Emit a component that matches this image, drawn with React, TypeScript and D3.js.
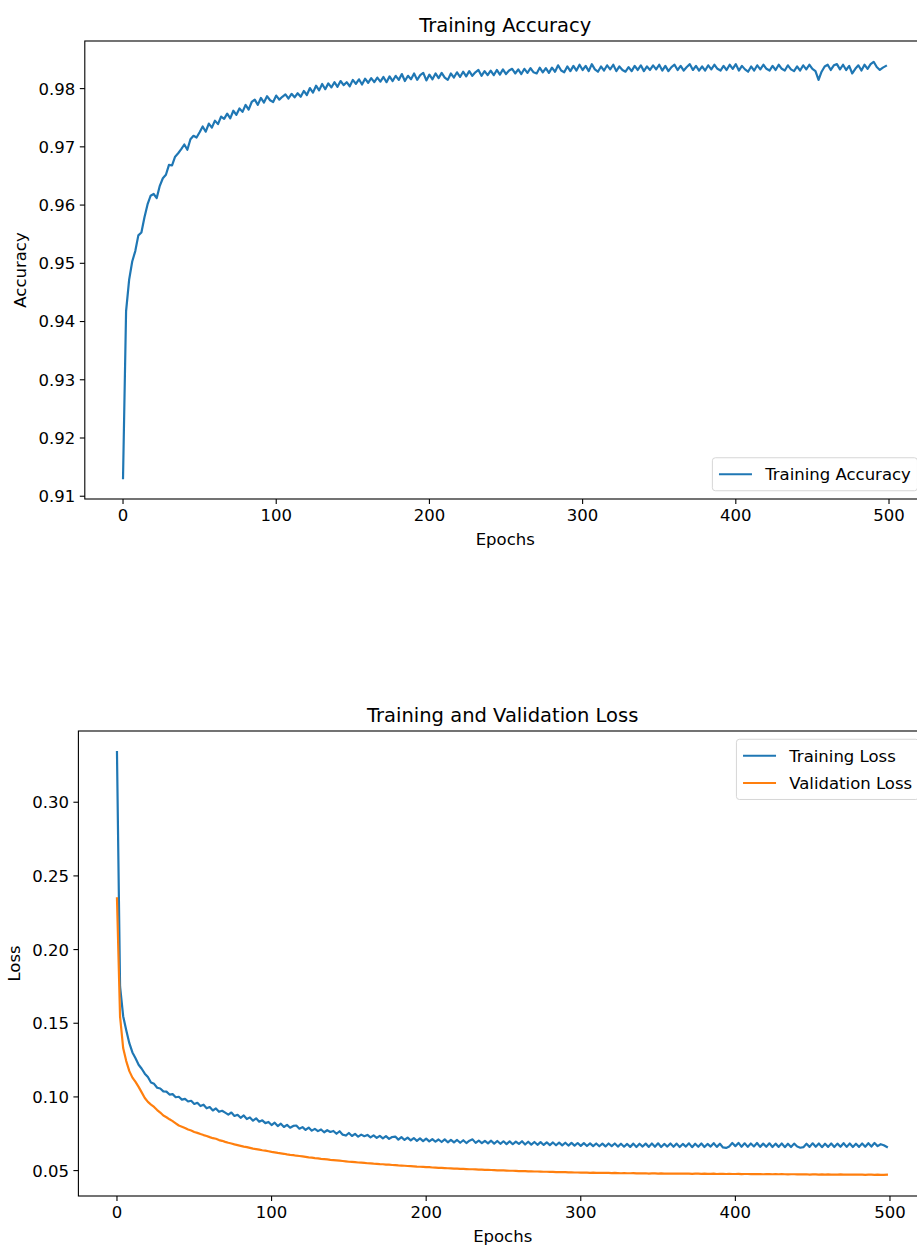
import { useEffect, useRef } from "react";
import * as d3 from "d3";

// Values, one every 2nd epoch (0, 2, ..., 498).
const TRAIN_ACC = [
  0.9131, 0.9418, 0.9472, 0.9503, 0.9521, 0.9548, 0.9553, 0.9579, 0.9601, 0.9616,
  0.9619, 0.9612, 0.9633, 0.9646, 0.9652, 0.9669, 0.9668, 0.9683, 0.9689, 0.9696,
  0.9704, 0.9695, 0.9713, 0.9719, 0.9716, 0.9725, 0.9735, 0.9726, 0.974, 0.9733,
  0.9745, 0.9739, 0.9752, 0.9748, 0.9757, 0.9749, 0.9762, 0.9755, 0.9766, 0.976,
  0.9772, 0.9764, 0.9777, 0.9781, 0.9772, 0.9784, 0.9776, 0.9787, 0.978, 0.9777,
  0.9788, 0.9781, 0.9786, 0.979, 0.9783, 0.9791, 0.9785, 0.9792, 0.9786, 0.9796,
  0.9789, 0.9801, 0.9793, 0.9805, 0.9797, 0.9808, 0.9799, 0.9809, 0.9802, 0.9811,
  0.9803, 0.9813, 0.9806, 0.9811, 0.9804, 0.9815, 0.9808, 0.9816, 0.9807, 0.9817,
  0.981, 0.9818, 0.9811, 0.9819, 0.9812, 0.982, 0.9811, 0.9821, 0.9813, 0.9822,
  0.9815, 0.9825, 0.9813, 0.9822, 0.9816, 0.9826, 0.9815, 0.9823, 0.9827, 0.9814,
  0.9824, 0.9816, 0.9826, 0.9818, 0.9827, 0.9819, 0.9815, 0.9826, 0.9819, 0.9828,
  0.982, 0.9829, 0.9821, 0.983, 0.9822, 0.9828, 0.9832, 0.9822, 0.983, 0.9823,
  0.9831, 0.9823, 0.9832, 0.9824, 0.9833, 0.9825, 0.9831, 0.9834, 0.9826, 0.9833,
  0.9825, 0.9834, 0.9827, 0.9835, 0.9828, 0.9826, 0.9836, 0.9828, 0.9835, 0.9827,
  0.9836, 0.9829, 0.984, 0.9831, 0.9828, 0.9838, 0.983, 0.9839, 0.9831, 0.9841,
  0.9832, 0.9839, 0.983, 0.9842, 0.9833, 0.9829, 0.9838, 0.9831, 0.984, 0.9833,
  0.9841, 0.983, 0.9838, 0.9832, 0.9829, 0.9837, 0.983, 0.9839, 0.9832, 0.984,
  0.983, 0.9838, 0.9832, 0.984, 0.9833, 0.9841, 0.9831, 0.9839, 0.983, 0.9837,
  0.9841, 0.9832, 0.9839, 0.9831, 0.9837, 0.9842, 0.9832, 0.9839, 0.9831, 0.9838,
  0.9831, 0.984, 0.9833, 0.9841, 0.9834, 0.9831, 0.9839, 0.9832, 0.9841, 0.9834,
  0.9842, 0.9831, 0.9839, 0.9833, 0.9829, 0.9838, 0.9831, 0.984, 0.9833, 0.9841,
  0.9834, 0.9831, 0.9839, 0.9832, 0.9841, 0.9834, 0.9831, 0.984, 0.9833, 0.983,
  0.9838, 0.9831, 0.984, 0.9833, 0.9841, 0.9834, 0.983, 0.9815, 0.9829, 0.9838,
  0.9841, 0.9832, 0.984, 0.9842, 0.9833, 0.9841, 0.9832, 0.9839, 0.9826, 0.9834,
  0.984, 0.9831, 0.9841, 0.9834, 0.9842, 0.9846, 0.9837, 0.9832, 0.9836, 0.9839,
];

const TRAIN_LOSS = [
  0.334, 0.175, 0.1548, 0.1452, 0.1365, 0.1302, 0.1262, 0.1218, 0.1191, 0.1158,
  0.1135, 0.1098, 0.1089, 0.1062, 0.1057, 0.1038, 0.1036, 0.1016, 0.1019, 0.0998,
  0.1001, 0.0982, 0.0987, 0.0969, 0.0974, 0.0952, 0.096, 0.0938, 0.0947, 0.0923,
  0.0931, 0.0908, 0.0922, 0.0899, 0.0906, 0.0893, 0.088, 0.0894, 0.0871, 0.0879,
  0.0858, 0.0874, 0.085, 0.0861, 0.0839, 0.0855, 0.0832, 0.0841, 0.0822, 0.083,
  0.0809, 0.0825, 0.0802, 0.0818, 0.0796, 0.081, 0.0791, 0.0803, 0.0806, 0.0784,
  0.0795, 0.0776, 0.0792, 0.0771, 0.0783, 0.0768, 0.0779, 0.076, 0.0774, 0.0762,
  0.0769, 0.075, 0.0767, 0.0744, 0.0738, 0.0755, 0.0735, 0.0749, 0.073, 0.0744,
  0.0733, 0.0742, 0.0725, 0.0739, 0.0722, 0.0736, 0.0719, 0.0734, 0.0715, 0.0728,
  0.0731, 0.071, 0.0727, 0.0708, 0.0724, 0.0705, 0.0721, 0.0702, 0.0719, 0.07,
  0.0717, 0.0698, 0.0714, 0.0696, 0.0711, 0.0694, 0.0712, 0.0692, 0.0709, 0.0691,
  0.0708, 0.0689, 0.0706, 0.0687, 0.0703, 0.0712, 0.0688, 0.0704, 0.0686, 0.0702,
  0.0685, 0.0703, 0.0683, 0.0701, 0.0682, 0.0699, 0.068, 0.0698, 0.0679, 0.0697,
  0.0681, 0.0699, 0.0677, 0.0696, 0.0676, 0.0694, 0.0675, 0.0693, 0.0674, 0.0692,
  0.0673, 0.0691, 0.0672, 0.069, 0.0671, 0.0689, 0.067, 0.0688, 0.0669, 0.0687,
  0.0668, 0.0686, 0.0667, 0.0685, 0.0666, 0.0684, 0.0665, 0.0683, 0.0664, 0.0684,
  0.0666, 0.0684, 0.0663, 0.0682, 0.0662, 0.0681, 0.0661, 0.0683, 0.066, 0.0682,
  0.0663, 0.0683, 0.0661, 0.0684, 0.0662, 0.0685, 0.066, 0.0681, 0.0663, 0.0684,
  0.0662, 0.0683, 0.066, 0.0681, 0.0663, 0.0685, 0.0659, 0.0682, 0.0662, 0.0684,
  0.066, 0.0681, 0.0663, 0.0686, 0.0661, 0.0682, 0.0657, 0.0654, 0.0664, 0.0687,
  0.0666, 0.0688, 0.0662, 0.0685, 0.0661, 0.0684, 0.0664, 0.0687, 0.0661, 0.0683,
  0.0662, 0.0685, 0.066, 0.0683, 0.0661, 0.0684, 0.0659, 0.0682, 0.066, 0.0683,
  0.0663, 0.0655, 0.0659, 0.0682, 0.0661, 0.0685, 0.0662, 0.0684, 0.0659, 0.0682,
  0.0661, 0.0684, 0.066, 0.0683, 0.0662, 0.0686, 0.0661, 0.0684, 0.066, 0.0682,
  0.0661, 0.0684, 0.0662, 0.0686, 0.0663, 0.0687, 0.0666, 0.0679, 0.0672, 0.066,
];

const VAL_LOSS = [
  0.2348, 0.1545, 0.1332, 0.1243, 0.1175, 0.1131, 0.1102, 0.1068, 0.1031, 0.0993,
  0.0966, 0.0948, 0.0932, 0.0911, 0.0894, 0.0874, 0.0862, 0.0848, 0.0836, 0.0821,
  0.0806, 0.0798, 0.0789, 0.0779, 0.0772, 0.0762, 0.0756, 0.0748, 0.0741, 0.0735,
  0.0727, 0.072, 0.0716, 0.0707, 0.0702, 0.0695, 0.0689, 0.0684, 0.0678, 0.0673,
  0.0668, 0.0663, 0.0659, 0.0654, 0.0649, 0.0646, 0.0642, 0.0638, 0.0635, 0.0631,
  0.0627, 0.0624, 0.062, 0.0617, 0.0614, 0.061, 0.0607, 0.0605, 0.0601, 0.0599,
  0.0596, 0.0593, 0.059, 0.0588, 0.0585, 0.0583, 0.058, 0.0578, 0.0576, 0.0573,
  0.0571, 0.0569, 0.0567, 0.0565, 0.0563, 0.056, 0.0559, 0.0557, 0.0555, 0.0554,
  0.0552, 0.055, 0.0549, 0.0547, 0.0546, 0.0544, 0.0543, 0.0541, 0.054, 0.0538,
  0.0537, 0.0535, 0.0534, 0.0533, 0.0531, 0.053, 0.0529, 0.0527, 0.0526, 0.0525,
  0.0524, 0.0523, 0.0521, 0.052, 0.0519, 0.0518, 0.0517, 0.0516, 0.0515, 0.0514,
  0.0513, 0.0512, 0.0511, 0.051, 0.0509, 0.0509, 0.0508, 0.0507, 0.0506, 0.0505,
  0.0505, 0.0504, 0.0503, 0.0502, 0.0502, 0.0501, 0.05, 0.0499, 0.0499, 0.0498,
  0.0497, 0.0497, 0.0496, 0.0495, 0.0495, 0.0494, 0.0494, 0.0493, 0.0492, 0.0492,
  0.0491, 0.0491, 0.049, 0.049, 0.0489, 0.0489, 0.0488, 0.0488, 0.0487, 0.0487,
  0.0486, 0.0487, 0.0486, 0.0485, 0.0486, 0.0485, 0.0484, 0.0485, 0.0484, 0.0484,
  0.0483, 0.0484, 0.0483, 0.0482, 0.0483, 0.0482, 0.0482, 0.0483, 0.0481, 0.0482,
  0.0481, 0.0482, 0.048, 0.0481, 0.0481, 0.048, 0.0481, 0.048, 0.0479, 0.048,
  0.048, 0.0479, 0.048, 0.0479, 0.0479, 0.048, 0.0478, 0.0479, 0.0479, 0.0478,
  0.0479, 0.0478, 0.0478, 0.0479, 0.0477, 0.0478, 0.0478, 0.0477, 0.0478, 0.0477,
  0.0477, 0.0478, 0.0476, 0.0477, 0.0477, 0.0476, 0.0477, 0.0476, 0.0477, 0.0475,
  0.0476, 0.0476, 0.0475, 0.0476, 0.0475, 0.0476, 0.0475, 0.0474, 0.0475, 0.0475,
  0.0474, 0.0475, 0.0474, 0.0475, 0.0473, 0.0474, 0.0474, 0.0473, 0.0474, 0.0473,
  0.0474, 0.0473, 0.0472, 0.0473, 0.0474, 0.0472, 0.0473, 0.0472, 0.0473, 0.0472,
  0.0473, 0.0472, 0.0471, 0.0472, 0.0472, 0.0471, 0.0472, 0.0471, 0.0471, 0.0472,
];

const EPOCHS = TRAIN_ACC.map((_, i) => i * 2);
const LAST_EPOCH = 499; // run was 500 epochs; x limits follow that

const EPOCH_TICKS = [0, 100, 200, 300, 400, 500];
const ACC_TICKS = [0.91, 0.92, 0.93, 0.94, 0.95, 0.96, 0.97, 0.98];
const LOSS_TICKS = [0.05, 0.1, 0.15, 0.2, 0.25, 0.3];

const BLUE = "#1f77b4";
const ORANGE = "#ff7f0e";
const FONT = "'DejaVu Sans', sans-serif";
const FS = 16.5;
const TITLE_FS = 19.5;

type Series = { label: string; color: string; values: number[] };

type Panel = {
  id: string;
  left: number;
  right: number;
  top: number;
  bottom: number;
  title: string;
  ylabel: string;
  ylabelX: number;
  yTicks: number[];
  series: Series[];
  legendAt: "lower right" | "upper right";
};

// matplotlib default autoscale: 5% margin each side
function padded(lo: number, hi: number): [number, number] {
  const m = (hi - lo) * 0.05;
  return [lo - m, hi + m];
}

function drawPanel(svg: d3.Selection<SVGSVGElement, unknown, null, undefined>, p: Panel) {
  const x = d3.scaleLinear().domain(padded(0, LAST_EPOCH)).range([p.left, p.right]);
  const all = p.series.flatMap((s) => s.values);
  const y = d3
    .scaleLinear()
    .domain(padded(d3.min(all)!, d3.max(all)!))
    .range([p.bottom, p.top]);

  const g = svg.append("g").attr("font-family", FONT).attr("fill", "#000");

  g.append("clipPath")
    .attr("id", `clip-${p.id}`)
    .append("rect")
    .attr("x", p.left)
    .attr("y", p.top)
    .attr("width", p.right - p.left)
    .attr("height", p.bottom - p.top);

  const line = d3
    .line<number>()
    .x((_, i) => x(EPOCHS[i]))
    .y((d) => y(d));

  const lines = g.append("g").attr("clip-path", `url(#clip-${p.id})`);
  p.series.forEach((s) => {
    lines
      .append("path")
      .attr("d", line(s.values))
      .attr("fill", "none")
      .attr("stroke", s.color)
      .attr("stroke-width", 2.2)
      .attr("stroke-linejoin", "round")
      .attr("stroke-linecap", "square");
  });

  // frame
  g.append("rect")
    .attr("x", p.left)
    .attr("y", p.top)
    .attr("width", p.right - p.left)
    .attr("height", p.bottom - p.top)
    .attr("fill", "none")
    .attr("stroke", "#000")
    .attr("stroke-width", 1.1);

  const tickLen = 5;
  const pad = 4.5;

  const xt = g.append("g");
  EPOCH_TICKS.forEach((t) => {
    const tx = x(t);
    xt.append("line")
      .attr("x1", tx)
      .attr("x2", tx)
      .attr("y1", p.bottom)
      .attr("y2", p.bottom + tickLen)
      .attr("stroke", "#000")
      .attr("stroke-width", 1.1);
    xt.append("text")
      .attr("x", tx)
      .attr("y", p.bottom + tickLen + pad)
      .attr("dy", "0.76em")
      .attr("text-anchor", "middle")
      .attr("font-size", FS)
      .text(String(t));
  });

  const yt = g.append("g");
  p.yTicks.forEach((t) => {
    const ty = y(t);
    yt.append("line")
      .attr("x1", p.left - tickLen)
      .attr("x2", p.left)
      .attr("y1", ty)
      .attr("y2", ty)
      .attr("stroke", "#000")
      .attr("stroke-width", 1.1);
    yt.append("text")
      .attr("x", p.left - tickLen - pad)
      .attr("y", ty)
      .attr("dy", "0.36em")
      .attr("text-anchor", "end")
      .attr("font-size", FS)
      .text(t.toFixed(2));
  });

  g.append("text")
    .attr("x", (p.left + p.right) / 2)
    .attr("y", p.top - 9)
    .attr("text-anchor", "middle")
    .attr("font-size", TITLE_FS)
    .text(p.title);

  g.append("text")
    .attr("x", (p.left + p.right) / 2)
    .attr("y", p.bottom + 46)
    .attr("text-anchor", "middle")
    .attr("font-size", FS)
    .text("Epochs");

  g.append("text")
    .attr("transform", `translate(${p.ylabelX},${(p.top + p.bottom) / 2}) rotate(-90)`)
    .attr("text-anchor", "middle")
    .attr("font-size", FS)
    .text(p.ylabel);

  // legend, sized like matplotlib's (em-based paddings)
  const em = FS;
  const rowH = em * 1.2;
  const spacing = em * 0.45;
  const borderPad = em * 0.4;
  const handleLen = em * 2;
  const handlePad = em * 0.8;
  const axPad = em * 0.5;

  const leg = g.append("g");
  const box = leg.append("rect");
  const texts = p.series.map((s) =>
    leg.append("text").attr("font-size", FS).attr("dy", "0.36em").text(s.label),
  );
  const textW = d3.max(texts, (t) => (t.node() as SVGTextElement).getComputedTextLength())!;
  const boxW = borderPad * 2 + handleLen + handlePad + textW;
  const boxH = borderPad * 2 + rowH * p.series.length + spacing * (p.series.length - 1);
  const bx = p.right - axPad - boxW;
  const by = p.legendAt === "upper right" ? p.top + axPad : p.bottom - axPad - boxH;

  box
    .attr("x", bx)
    .attr("y", by)
    .attr("width", boxW)
    .attr("height", boxH)
    .attr("rx", 3)
    .attr("fill", "#fff")
    .attr("fill-opacity", 0.8)
    .attr("stroke", "#d6d6d6")
    .attr("stroke-width", 1);

  p.series.forEach((s, i) => {
    const cy = by + borderPad + rowH / 2 + i * (rowH + spacing);
    leg
      .append("line")
      .attr("x1", bx + borderPad)
      .attr("x2", bx + borderPad + handleLen)
      .attr("y1", cy)
      .attr("y2", cy)
      .attr("stroke", s.color)
      .attr("stroke-width", 2.2);
    texts[i].attr("x", bx + borderPad + handleLen + handlePad).attr("y", cy);
  });
}

export default function App() {
  const ref = useRef<SVGSVGElement | null>(null);

  useEffect(() => {
    if (!ref.current) return;
    const svg = d3.select(ref.current);
    svg.selectAll("*").remove();

    drawPanel(svg, {
      id: "acc",
      left: 84.8,
      right: 925.7,
      top: 41,
      bottom: 499,
      title: "Training Accuracy",
      ylabel: "Accuracy",
      ylabelX: 26,
      yTicks: ACC_TICKS,
      series: [{ label: "Training Accuracy", color: BLUE, values: TRAIN_ACC }],
      legendAt: "lower right",
    });

    drawPanel(svg, {
      id: "loss",
      left: 78.4,
      right: 927,
      top: 731,
      bottom: 1196,
      title: "Training and Validation Loss",
      ylabel: "Loss",
      ylabelX: 20,
      yTicks: LOSS_TICKS,
      series: [
        { label: "Training Loss", color: BLUE, values: TRAIN_LOSS },
        { label: "Validation Loss", color: ORANGE, values: VAL_LOSS },
      ],
      legendAt: "upper right",
    });
  }, []);

  return (
    <svg
      ref={ref}
      width={917}
      height={1247}
      style={{ position: "absolute", left: 0, top: 0, background: "#fff" }}
    />
  );
}
